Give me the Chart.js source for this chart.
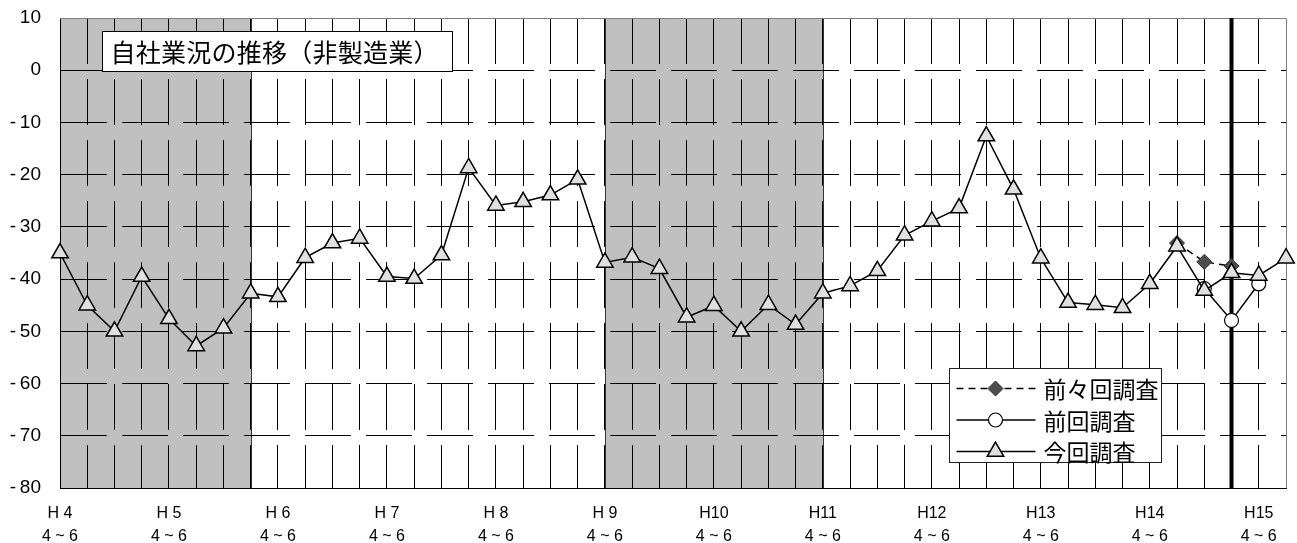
<!DOCTYPE html>
<html lang="ja">
<head>
<meta charset="utf-8">
<title>自社業況の推移（非製造業）</title>
<script src="https://cdn.jsdelivr.net/npm/chart.js@4.4.1/dist/chart.umd.min.js"></script>
<style>
  html, body { margin: 0; padding: 0; background: #fff; }
  #wrap { width: 1297px; height: 543px; position: relative; }
</style>
</head>
<body>
<div id="wrap"><canvas id="bizChart"></canvas></div>
<script>
// fiscal quarters, H4 (4~6) .. H15 (7~9)
const eras = ['H 4', 'H 5', 'H 6', 'H 7', 'H 8', 'H 9', 'H10', 'H11', 'H12', 'H13', 'H14', 'H15'];
const quarters = ['4 ~ 6', '7 ~ 9', '10 ~ 12', '1 ~ 3'];

const currentSurvey = [
  -35, -45, -50, -39.5, -47.6, -52.8, -49.4, -42.7,
  -43.4, -35.9, -33.1, -32.2, -39.5, -39.9, -35.4, -18.7,
  -25.9, -25.2, -23.9, -20.9, -36.8, -35.8, -38, -47.3,
  -45.1, -50, -44.9, -48.7, -42.7, -41.3, -38.4, -31.6,
  -28.9, -26.4, -12.6, -22.8, -36, -44.5, -44.9, -45.5,
  -40.9, -33.7, -42.2, -38.8, -39.3, -36
];
const previousSurvey = Array(42).fill(null).concat([-41.8, -47.9, -40.9, null]);
const twoBeforeSurvey = Array(41).fill(null).concat([-33.1, -36.7, -37.5, null, null]);

// shaded periods (category index from / to) and the current-survey marker line
const shadeFrom = [0, 20];
const shadeTo = [7, 28];
const surveyLineAt = 43;

const yMin = -80, yMax = 10, yStep = 10;

const labels = currentSurvey.map((_, i) => [eras[Math.floor(i / 4)], quarters[i % 4]]);

const JP = "'Noto Sans CJK JP', sans-serif";
Chart.defaults.font.family = "'Liberation Sans', Arial, sans-serif";
Chart.defaults.color = '#000';

function marker(ctx, opts, x, y) {
  ctx.fillStyle = opts.fill;
  ctx.strokeStyle = opts.stroke;
  ctx.lineWidth = opts.borderWidth;
  Chart.helpers.drawPoint(ctx, opts, x, y);
}

// draw text stretched to a given width (keeps the reference's loose spacing)
function spacedText(ctx, text, x, y, width) {
  const n = [...text].length;
  const w = ctx.measureText(text).width;
  ctx.letterSpacing = ((width - w) / (n - 1)).toFixed(2) + 'px';
  ctx.fillText(text, x, y);
  ctx.letterSpacing = '0px';
}

const decor = {
  id: 'decor',
  beforeDraw(chart) {
    const { ctx, chartArea: a, scales: { x } } = chart;
    ctx.save();
    ctx.fillStyle = '#fff';
    ctx.fillRect(0, 0, chart.width, chart.height);
    shadeFrom.forEach((from, i) => {
      const x1 = Math.round(x.getPixelForValue(from)) + 0.5;
      const x2 = Math.round(x.getPixelForValue(shadeTo[i])) + 0.5;
      ctx.fillStyle = '#c0c0c0';
      ctx.fillRect(x1, a.top, x2 - x1, a.bottom - a.top);
      ctx.strokeStyle = '#333';
      ctx.lineWidth = 1;
      ctx.strokeRect(x1, Math.round(a.top) + 0.5, x2 - x1, a.bottom - a.top);
    });
    ctx.restore();
  },
  beforeDatasetsDraw(chart) {
    const { ctx, chartArea: a, scales: { x } } = chart;
    ctx.save();
    // plot frame: top and right edges in grey
    ctx.strokeStyle = '#808080';
    ctx.lineWidth = 1;
    ctx.beginPath();
    ctx.moveTo(a.left, Math.round(a.top) + 0.5);
    ctx.lineTo(Math.round(a.right) + 0.5, Math.round(a.top) + 0.5);
    ctx.lineTo(Math.round(a.right) + 0.5, a.bottom);
    ctx.stroke();
    // thick survey line
    const sx = x.getPixelForValue(surveyLineAt);
    ctx.strokeStyle = '#000';
    ctx.lineWidth = 4;
    ctx.beginPath();
    ctx.moveTo(sx, a.top);
    ctx.lineTo(sx, a.bottom);
    ctx.stroke();
    ctx.restore();
  },
  afterDraw(chart) {
    const { ctx, chartArea: a } = chart;
    ctx.save();
    // title box
    const tx = Math.round(a.left + 42) + 0.5, ty = Math.round(a.top + 13) + 0.5;
    ctx.fillStyle = '#fff';
    ctx.fillRect(tx, ty, 350, 40);
    ctx.strokeStyle = '#000';
    ctx.lineWidth = 1;
    ctx.strokeRect(tx, ty, 350, 40);
    ctx.fillStyle = '#000';
    ctx.font = '25px ' + JP;
    ctx.textBaseline = 'middle';
    ctx.textAlign = 'left';
    spacedText(ctx, '自社業況の推移（非製造業）', tx + 8, ty + 21, 328);

    // legend box
    const lw = 212, lh = 94;
    const lx = Math.round(a.right - 125 - lw) + 0.5, ly = Math.round(a.bottom - 26 - lh) + 0.5;
    ctx.fillStyle = '#fff';
    ctx.fillRect(lx, ly, lw, lh);
    ctx.strokeStyle = '#222';
    ctx.strokeRect(lx, ly, lw, lh);
    const sets = chart.data.datasets.slice().reverse();
    sets.forEach((ds, i) => {
      const cy = ly + 20 + i * 31.5;
      ctx.strokeStyle = ds.borderColor;
      ctx.lineWidth = ds.borderWidth;
      ctx.setLineDash(ds.borderDash || []);
      ctx.beginPath();
      ctx.moveTo(lx + 7, cy);
      ctx.lineTo(lx + 86, cy);
      ctx.stroke();
      ctx.setLineDash([]);
      marker(ctx, {
        pointStyle: ds.pointStyle, radius: ds.pointRadius, rotation: 0,
        borderWidth: ds.pointBorderWidth, fill: ds.pointBackgroundColor, stroke: ds.pointBorderColor
      }, lx + 46, cy);
      ctx.fillStyle = '#000';
      ctx.font = '23px ' + JP;
      ctx.textBaseline = 'middle';
      ctx.fillText(ds.label, lx + 94, cy + 1);
    });
    ctx.restore();
  }
};

new Chart(document.getElementById('bizChart'), {
  type: 'line',
  data: {
    labels: labels,
    datasets: [
      {
        label: '今回調査',
        data: currentSurvey,
        borderColor: '#000',
        borderWidth: 1.5,
        pointStyle: 'triangle',
        pointRadius: 9.5,
        pointBackgroundColor: '#e0e0e0',
        pointBorderColor: '#000',
        pointBorderWidth: 1.5,
        clip: false
      },
      {
        label: '前回調査',
        data: previousSurvey,
        borderColor: '#000',
        borderWidth: 1.5,
        pointStyle: 'circle',
        pointRadius: 7,
        pointBackgroundColor: '#fff',
        pointBorderColor: '#000',
        pointBorderWidth: 1.2,
        clip: false
      },
      {
        label: '前々回調査',
        data: twoBeforeSurvey,
        borderColor: '#000',
        borderWidth: 1.5,
        borderDash: [7, 5],
        pointStyle: 'rectRot',
        pointRadius: 7.5,
        pointBackgroundColor: '#4d4d4d',
        pointBorderColor: '#333',
        pointBorderWidth: 1,
        clip: false
      }
    ]
  },
  options: {
    responsive: true,
    maintainAspectRatio: false,
    animation: false,
    events: [],
    layout: { padding: { top: 18, right: 9, left: 0, bottom: 0 } },
    plugins: {
      legend: { display: false },
      tooltip: { enabled: false }
    },
    scales: {
      x: {
        type: 'category',
        offset: false,
        afterFit: s => { s.height = 55; s.paddingLeft = 0; s.paddingRight = 0; },
        grid: {
          color: c => (c.index === currentSurvey.length - 1 ? 'rgba(0,0,0,0)' : '#000'),
          lineWidth: 1,
          drawTicks: false
        },
        border: { display: true, color: '#000', width: 1, dash: [46, 15] },
        ticks: {
          autoSkip: false,
          maxRotation: 0,
          minRotation: 0,
          padding: 15,
          font: { size: 16, lineHeight: 1.38 },
          callback: function (value, index) {
            return index % 4 === 0 ? this.getLabelForValue(value) : '';
          }
        }
      },
      y: {
        min: yMin,
        max: yMax,
        afterFit: s => { s.width = 60; s.paddingTop = 0; s.paddingBottom = 0; },
        grid: {
          color: c => (c.tick && c.tick.value === yMax ? 'rgba(0,0,0,0)' : '#000'),
          lineWidth: 1,
          drawTicks: false
        },
        border: { display: true, color: '#000', width: 1, dash: [46, 15] },
        ticks: {
          stepSize: yStep,
          padding: 19,
          font: { size: 19 },
          callback: v => (v < 0 ? '-\u2009' + Math.abs(v) : String(v))
        }
      }
    }
  },
  plugins: [decor]
});
</script>
</body>
</html>
